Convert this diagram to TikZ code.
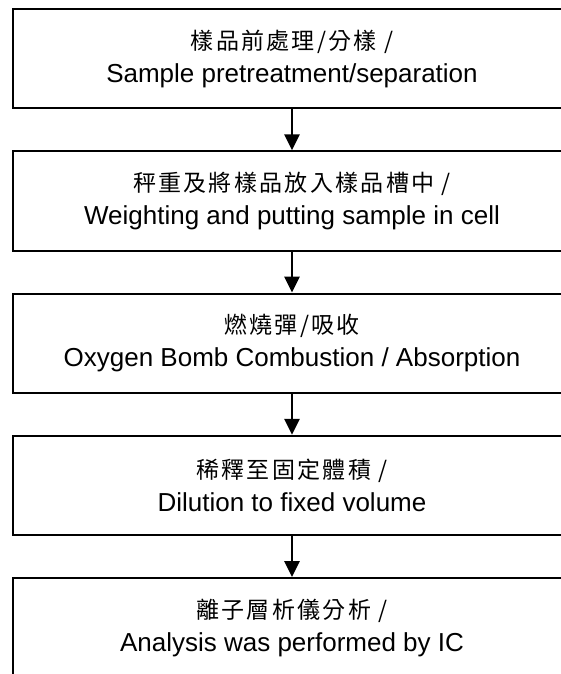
\documentclass[tikz,border=0pt]{standalone}
\usepackage{fontspec}
\setmainfont{Liberation Sans}
\newfontfamily\cjk[LetterSpace=10]{Noto Sans CJK TC}
\usepackage{tikz}
\usetikzlibrary{positioning}
\usetikzlibrary{arrows.meta}

\newcommand{\cn}[1]{{\cjk\fontsize{23pt}{33pt}\selectfont #1}}

\begin{document}
\begin{tikzpicture}[
  font=\fontsize{26pt}{33pt}\selectfont,
  stepbox/.style={draw, line width=2pt, align=center, minimum height=99.5pt, minimum width=559pt, inner sep=0pt},
  arrow/.style={-{Triangle[width=15pt, length=16pt]}, line width=2.8pt}
]
\useasboundingbox (0,0) rectangle (560pt,-674pt);

% Steps of the procedure, top to bottom
\node[stepbox] (pre) at (292pt,-58.75pt) {\cn{樣品前處理/分樣 /}\\Sample pretreatment/separation};
\node[stepbox, below=40.75pt of pre] (weigh) {\cn{秤重及將樣品放入樣品槽中 /}\\Weighting and putting sample in cell};
\node[stepbox, below=40.75pt of weigh] (bomb) {\cn{燃燒彈/吸收}\\Oxygen Bomb Combustion / Absorption};
\node[stepbox, below=40.75pt of bomb] (dil) {\cn{稀釋至固定體積 /}\\Dilution to fixed volume};
\node[stepbox, below=40.75pt of dil] (ic) {\cn{離子層析儀分析 /}\\Analysis was performed by IC};

% Flow arrows
\draw[arrow] (pre) -- (weigh);
\draw[arrow] (weigh) -- (bomb);
\draw[arrow] (bomb) -- (dil);
\draw[arrow] (dil) -- (ic);

\end{tikzpicture}
\end{document}
